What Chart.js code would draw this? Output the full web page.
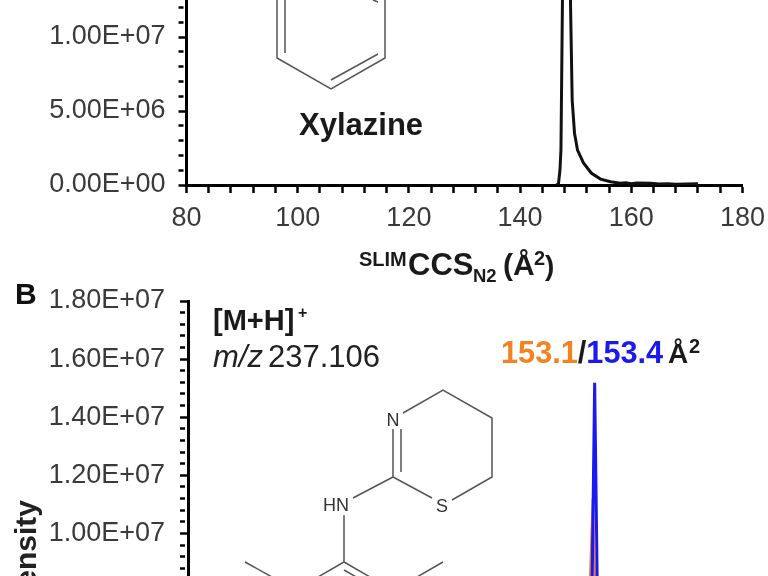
<!DOCTYPE html>
<html>
<head>
<meta charset="utf-8">
<script src="https://cdn.jsdelivr.net/npm/chart.js@4/dist/chart.umd.min.js"></script>
<style>
  html, body { margin: 0; background: #fff; width: 768px; height: 576px; overflow: hidden; }
  canvas, svg { position: absolute; left: 0; }
  #chartA { top: -67px; }
  #chartB { top: 269px; }
  svg { top: 0; font-family: "Liberation Sans", Arial, sans-serif; }
</style>
</head>
<body>
<canvas id="chartA" width="774" height="318"></canvas>
<canvas id="chartB" width="774" height="621"></canvas>

<svg width="768" height="576" viewBox="0 0 768 576">
  <!-- xylazine, panel A -->
  <g stroke="#555" stroke-width="1.5" fill="none">
    <path d="M277 0V58L331 89L385 58V0"/>
    <path d="M285 0V53M331 80L378 54M373 0L378 2"/>
  </g>
  <text x="299" y="135" font-size="31" font-weight="bold" fill="#1a1a1a">Xylazine</text>

  <text font-weight="bold" fill="#1a1a1a">
    <tspan x="359" y="266" font-size="20">SLIM</tspan><tspan x="408" y="275" font-size="31">CCS</tspan><tspan x="473" y="282" font-size="18.5">N2</tspan><tspan x="503" y="275" font-size="30">(Å</tspan><tspan x="534" y="265" font-size="20">2</tspan><tspan x="545" y="275" font-size="28">)</tspan>
  </text>

  <!-- panel B -->
  <text x="15" y="304" font-size="30" font-weight="bold" fill="#111">B</text>
  <text transform="translate(36 500) rotate(-90)" text-anchor="end" font-size="30" font-weight="bold" fill="#222">Intensity</text>
  <text x="213" y="330" font-size="29" font-weight="bold" fill="#1a1a1a">[M+H]<tspan x="298" y="318" font-size="16">+</tspan></text>
  <text x="213" y="367" font-size="31" fill="#222"><tspan font-style="italic">m/z</tspan><tspan x="268">237.106</tspan></text>
  <text x="501" y="363" font-size="30.7" font-weight="bold"><tspan fill="#f58220">153.1</tspan><tspan fill="#1a1a1a">/</tspan><tspan fill="#1a1af0">153.4</tspan></text>
  <text x="668" y="363" font-size="28" font-weight="bold" fill="#1a1a1a">Å<tspan x="689" y="353" font-size="20">2</tspan></text>

  <g stroke="#555" stroke-width="1.5" fill="none">
    <path d="M403 413L443 390L492 418V477L452 500M432 498L393 477V429M401 429V472M353 498L393 477"/>
    <path d="M344 515V562L318 577M344 562L370 577M344 570L365 582M245 562L272 577M443 562L417 577"/>
  </g>
  <g font-size="18" fill="#333" text-anchor="middle">
    <text x="393" y="426">N</text>
    <text x="336" y="511">HN</text>
    <text x="442" y="512">S</text>
  </g>
</svg>

<script>
// eixos
const xTickLabels = ["80", "100", "120", "140", "160", "180"];
const topYTickLabels = ["0.00E+00", "5.00E+06", "1.00E+07", "1.50E+07"];
const bottomYTickLabels = ["0.00E+00", "2.00E+06", "4.00E+06", "6.00E+06", "8.00E+06", "1.00E+07",
  "1.20E+07", "1.40E+07", "1.60E+07", "1.80E+07"];

// painel A, xilazina
const xylazineCcs = [146.5, 146.9, 147.17, 147.35, 147.44, 147.62, 148.3, 149.06, 149.37, 149.79, 150.33, 151.4,
  152.8, 154.47, 156.27, 158, 159, 160, 161, 163.5, 165, 166.5, 168, 172];
const xylazineIntensity = [0, 60000, 1000000, 2360000, 5740000, 12500000, 19000000, 12500000, 5740000, 3500000,
  2360000, 1490000, 810000, 400000, 220000, 120000, 150000, 90000, 130000, 110000, 70000, 90000, 50000, 90000];

// painel B, dois isômeros
const orangeCcs = [151.4, 151.9, 152.2, 152.54, 153.02, 153.35, 153.6, 154, 155, 157];
const orangeIntensity = [0, 500000, 3000000, 8500000, 11200000, 8500000, 3000000, 1000000, 300000, 0];
const blueCcs = [151.8, 152.3, 152.6, 152.9, 153.34, 153.79, 154.1, 154.6, 155.5, 158];
const blueIntensity = [0, 500000, 3000000, 8500000, 15190000, 8500000, 3000000, 1000000, 300000, 0];

const toPoints = (xs, ys) => xs.map((x, i) => ({ x, y: ys[i] }));

const tickFont = { family: "'Liberation Sans', Arial, sans-serif", size: 27 };

const buildChart = (id, datasets, opts) => {
  new Chart(document.getElementById(id), {
    type: "line",
    data: { datasets },
    options: {
      responsive: false,
      animation: false,
      layout: { padding: { top: opts.top } },
      plugins: { legend: { display: false }, tooltip: { enabled: false } },
      elements: { point: { radius: 0 }, line: { tension: 0 } },
      scales: {
        x: {
          type: "linear", min: 80, max: 180,
          afterFit: (scale) => { scale.height = 66; },
          border: { color: "#000", width: 3 },
          grid: {
            drawOnChartArea: false, tickLength: 8, tickColor: "#000", tickWidth: 2.5,
            tickBorderDash: (ctx) => (ctx.tick.value % 20 === 0 ? [] : [6, 100])
          },
          ticks: {
            stepSize: 4, autoSkip: false, maxRotation: 0, padding: 9, color: "#3a3a3a", font: tickFont,
            callback: (v) => (v % 20 === 0 ? xTickLabels[(v - 80) / 20] : "")
          }
        },
        y: {
          min: 0, max: opts.max,
          afterFit: (scale) => { scale.width = opts.left; },
          border: { color: "#000", width: 3 },
          grid: {
            drawOnChartArea: false, tickLength: 8, tickColor: "#000", tickWidth: 2.5,
            tickBorderDash: (ctx) => (ctx.tick.value % opts.major === 0 ? [] : [5, 100])
          },
          ticks: {
            stepSize: opts.minor, autoSkip: false, padding: opts.labelGap, color: "#3a3a3a", font: tickFont,
            callback: (v) => (v % opts.major === 0 ? opts.labels[v / opts.major] : "")
          }
        }
      }
    }
  });
};

buildChart("chartA", [
  { data: toPoints(xylazineCcs, xylazineIntensity), borderColor: "#111", borderWidth: 3 }
], { top: 30, left: 186.5, labelGap: 13, max: 15000000, major: 5000000, minor: 1000000, labels: topYTickLabels });

buildChart("chartB", [
  { data: toPoints(blueCcs, blueIntensity), borderColor: "#1a1af0", borderWidth: 3, order: 1 },
  { data: toPoints(orangeCcs, orangeIntensity), borderColor: "#ed7d31", borderWidth: 2.5, order: 2 }
], { top: 32, left: 188, labelGap: 15, max: 18000000, major: 2000000, minor: 400000, labels: bottomYTickLabels });
</script>
</body>
</html>
